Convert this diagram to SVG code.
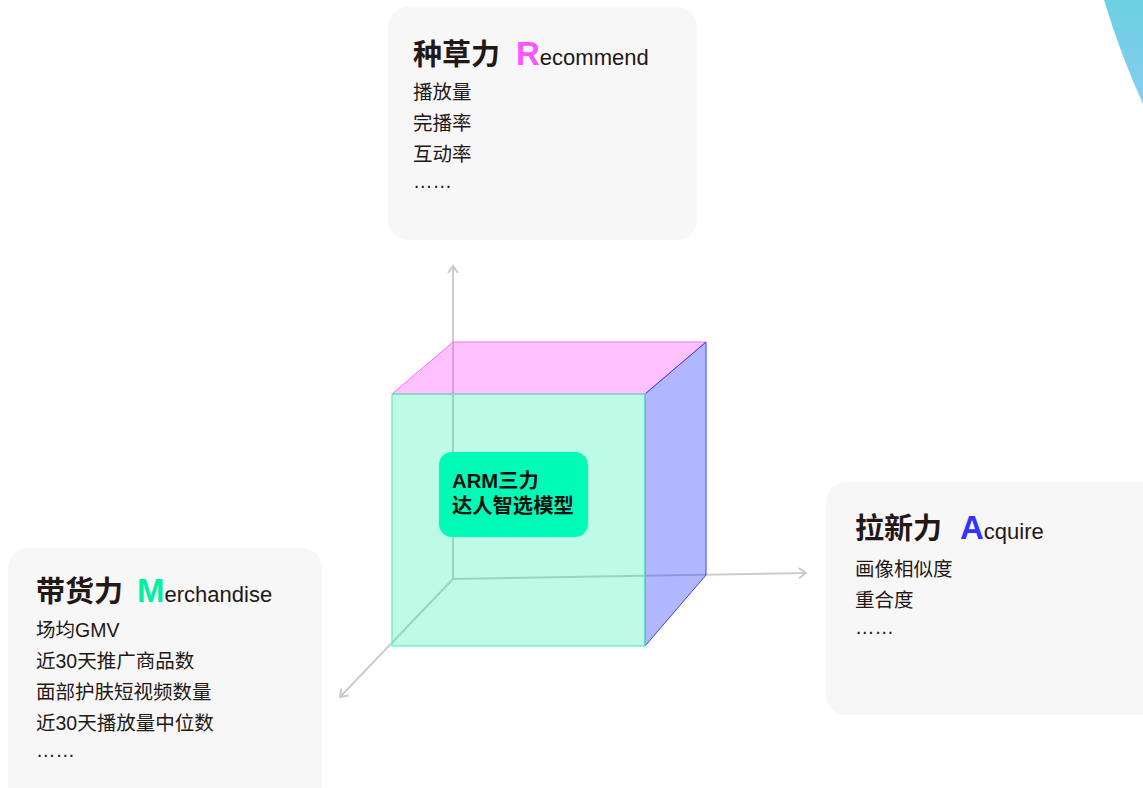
<svg xmlns="http://www.w3.org/2000/svg" width="1143" height="788" viewBox="0 0 1143 788">
  <defs>
    <linearGradient id="arcFill" x1="0" y1="0" x2="0" y2="1">
      <stop offset="0" stop-color="#6dd0e2"/>
      <stop offset="1" stop-color="#86cdef"/>
    </linearGradient>
    <marker id="arrow" viewBox="0 0 12 12" refX="10" refY="6" markerWidth="12" markerHeight="12" markerUnits="userSpaceOnUse" orient="auto">
      <polyline points="3,1 10,6 3,11" fill="none" stroke="#cccccc" stroke-width="2"/>
    </marker>
    <style>
      .card { fill: #f7f7f7; }
      .title { font-family: "Liberation Sans", "Noto Sans CJK SC", sans-serif; font-size: 29px; font-weight: bold; fill: #231815; }
      .latin { font-family: "Liberation Sans", "Noto Sans CJK SC", sans-serif; font-size: 22px; font-weight: normal; fill: #231815; }
      .cap { font-family: "Liberation Sans", "Noto Sans CJK SC", sans-serif; font-size: 33px; font-weight: bold; }
      .item { font-family: "Liberation Sans", "Noto Sans CJK SC", sans-serif; font-size: 19.5px; fill: #231815; }
      .axis { stroke: #cccccc; stroke-width: 2; fill: none; marker-end: url(#arrow); }
      .core { font-family: "Liberation Sans", "Noto Sans CJK SC", sans-serif; font-size: 20.3px; font-weight: bold; fill: #111111; }
    </style>
  </defs>

  <rect width="1143" height="788" fill="#ffffff"/>

  <!-- corner accent -->
  <path d="M1104,0 Q1121,56 1143,104 L1143,0 Z" fill="url(#arcFill)"/>

  <!-- axes (behind the translucent cube) -->
  <g id="connectors">
    <line class="axis" x1="453" y1="579" x2="453" y2="266"/>
    <line class="axis" x1="453" y1="579" x2="806" y2="573"/>
    <line class="axis" x1="453" y1="579" x2="340" y2="697"/>
  </g>

  <!-- cube -->
  <g id="cube">
    <polygon points="392,394 453,342 706,342 645,394" fill="#ff33ff" fill-opacity="0.3" stroke="#ff66ff" stroke-width="1"/>
    <polygon points="645,394 706,342 706,575 645,646" fill="#2233ff" fill-opacity="0.35" stroke="#3340ff" stroke-width="1"/>
    <rect x="392" y="394" width="253" height="252" fill="#00f0a0" fill-opacity="0.26" stroke="#5ef0b0" stroke-width="1.2"/>
  </g>

  <!-- core label -->
  <g id="core">
    <rect x="439" y="452" width="149" height="85" rx="13" fill="#00fbb6"/>
    <text class="core" x="452" y="488">ARM三力</text>
    <text class="core" x="452" y="513">达人智选模型</text>
  </g>

  <!-- Recommend -->
  <g id="recommend">
    <rect class="card" x="388" y="7" width="309" height="233" rx="20"/>
    <text class="title" x="413" y="65">种草力<tspan class="cap" fill="#ff55ff" x="516">R</tspan><tspan class="latin">ecommend</tspan></text>
    <text class="item" x="413" y="99">播放量</text>
    <text class="item" x="413" y="130">完播率</text>
    <text class="item" x="413" y="161">互动率</text>
    <text class="item" x="413" y="188">……</text>
  </g>

  <!-- Acquire -->
  <g id="acquire">
    <rect class="card" x="826" y="482" width="340" height="233" rx="20"/>
    <text class="title" x="855" y="539">拉新力<tspan class="cap" fill="#3333ff" x="960">A</tspan><tspan class="latin">cquire</tspan></text>
    <text class="item" x="855" y="576">画像相似度</text>
    <text class="item" x="855" y="607">重合度</text>
    <text class="item" x="855" y="634">……</text>
  </g>

  <!-- Merchandise -->
  <g id="merchandise">
    <rect class="card" x="8" y="548" width="314" height="260" rx="20"/>
    <text class="title" x="36" y="602">带货力<tspan class="cap" fill="#00f0a0" x="137">M</tspan><tspan class="latin">erchandise</tspan></text>
    <text class="item" x="36" y="637">场均GMV</text>
    <text class="item" x="36" y="668">近30天推广商品数</text>
    <text class="item" x="36" y="699">面部护肤短视频数量</text>
    <text class="item" x="36" y="730">近30天播放量中位数</text>
    <text class="item" x="36" y="757">……</text>
  </g>
</svg>
